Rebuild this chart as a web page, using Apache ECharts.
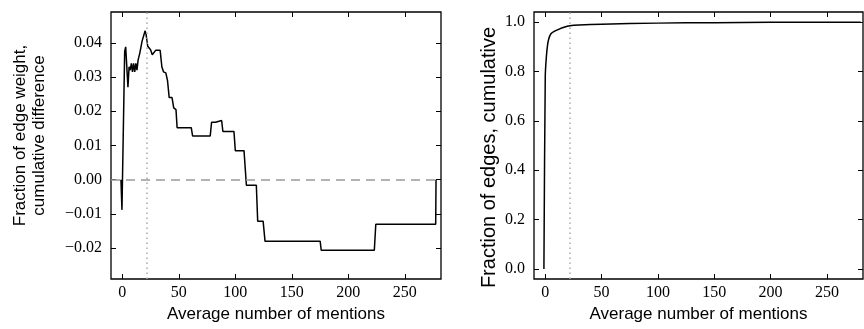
<!DOCTYPE html>
<html>
<head>
<meta charset="utf-8">
<script src="https://cdn.jsdelivr.net/npm/echarts@6/dist/echarts.min.js"></script>
<style>
  html, body { margin: 0; padding: 0; background: #fff; }
  #chart { width: 864px; height: 329px; }
</style>
</head>
<body>
<div id="chart"></div>
<script>
// left panel: cumulative difference of edge weight
const diffX = [-1.2, -0.3, 2.1, 3, 5, 6, 7, 8, 9, 10, 11, 12, 13, 14, 15.5, 16.5, 17.5, 18.5, 20.2, 21,
  22.5, 24, 25, 26.5, 28, 29.5, 33.5, 35, 36.5, 38.5, 40, 41.5, 44, 45.5, 47.5, 48.5, 61, 62.2, 77.8, 79,
  82.5, 83.7, 87.9, 89, 98.8, 100, 107.7, 109.8, 118.6, 119.8, 124.6, 126.3, 175.1, 176, 223, 224.3, 277.3, 277.6];
const diffY = [0, -0.0088, 0.0375, 0.0388, 0.027, 0.033, 0.032, 0.034, 0.0315, 0.034, 0.0315, 0.034, 0.032, 0.035, 0.037, 0.037, 0.0405, 0.041, 0.0435, 0.0425,
  0.039, 0.0385, 0.038, 0.0365, 0.0365, 0.0378, 0.0378, 0.033, 0.0315, 0.0312, 0.029, 0.024, 0.024, 0.021, 0.0205, 0.0152, 0.0152, 0.0128, 0.0128, 0.0168,
  0.0168, 0.0173, 0.0173, 0.0141, 0.0141, 0.0085, 0.0085, -0.0016, -0.0016, -0.0121, -0.0121, -0.018, -0.018, -0.0206, -0.0206, -0.013, -0.013, 0];

// right panel: cumulative fraction of edges
const cdfX = [-1.2, 0, 1, 2, 3, 5, 8, 12, 16, 22, 30, 50, 100, 150, 200, 280];
const cdfY = [0, 0.78, 0.86, 0.905, 0.93, 0.952, 0.962, 0.97, 0.977, 0.984, 0.987, 0.9905, 0.995, 0.997, 0.9985, 0.999];

const xTicks = [0, 50, 100, 150, 200, 250];
const diffTicks = [-0.02, -0.01, 0, 0.01, 0.02, 0.03, 0.04];
const cdfTicks = [0, 0.2, 0.4, 0.6, 0.8, 1.0];
const markerX = 22;

const chart = echarts.init(document.getElementById('chart'));

const tickFont = { fontFamily: 'Liberation Serif', fontSize: 16, color: '#000' };
const titleFont = { fontFamily: 'Liberation Sans', fontSize: 17, color: '#000' };
const minus = (s) => s.replace('-', '\u2212');

function xAxisPair(gridIndex) {
  const base = {
    type: 'value', gridIndex, min: -10, max: 282,
    splitLine: { show: false },
    axisLine: { show: false, onZero: false },
  };
  return [
    {
      ...base,
      position: 'bottom',
      name: 'Average number of mentions',
      nameLocation: 'middle',
      nameGap: 24,
      nameTextStyle: titleFont,
      axisTick: { inside: true, length: 5, customValues: xTicks, lineStyle: { color: '#000' } },
      axisLabel: { ...tickFont, margin: 6, customValues: xTicks },
    },
    {
      ...base,
      position: 'top',
      axisTick: { inside: true, length: 5, customValues: xTicks, lineStyle: { color: '#000' } },
      axisLabel: { show: false, customValues: xTicks },
    },
  ];
}

function yAxisPair(gridIndex, min, max, ticks, digits, name, gap, nameStyle) {
  const base = {
    type: 'value', gridIndex, min, max,
    splitLine: { show: false },
    axisLine: { show: false, onZero: false },
  };
  return [
    {
      ...base,
      position: 'left',
      name,
      nameLocation: 'middle',
      nameGap: gap,
      nameTextStyle: { ...titleFont, ...nameStyle },
      axisTick: { inside: true, length: 5, customValues: ticks, lineStyle: { color: '#000' } },
      axisLabel: {
        ...tickFont, margin: 9, customValues: ticks,
        formatter: (v) => minus(v.toFixed(digits)),
      },
    },
    {
      ...base,
      position: 'right',
      axisTick: { inside: true, length: 5, customValues: ticks, lineStyle: { color: '#000' } },
      axisLabel: { show: false, customValues: ticks },
    },
  ];
}

const diffData = diffX.map((x, i) => [x, diffY[i]]);
const cdfData = cdfX.map((x, i) => [x, cdfY[i]]);

const option = {
  backgroundColor: '#fff',
  animation: false,
  grid: [
    { left: 111, top: 12, width: 330, height: 267, show: true, borderColor: '#000', borderWidth: 1.3, backgroundColor: 'transparent' },
    { left: 534, top: 12, width: 329, height: 267, show: true, borderColor: '#000', borderWidth: 1.3, backgroundColor: 'transparent' },
  ],
  xAxis: [...xAxisPair(0), ...xAxisPair(1)],
  yAxis: [
    ...yAxisPair(0, -0.029, 0.049, diffTicks, 2, 'Fraction of edge weight,\ncumulative difference', 62,
      { lineHeight: 19, padding: [0, 0, 0, 20] }),
    ...yAxisPair(1, -0.04, 1.04, cdfTicks, 1, 'Fraction of edges, cumulative', 35,
      { fontSize: 20, padding: [0, 24, 0, 0] }),
  ],
  series: [
    {
      type: 'line',
      xAxisIndex: 0,
      yAxisIndex: 0,
      data: diffData,
      showSymbol: false,
      lineStyle: { color: '#000', width: 1.5 },
      markLine: {
        silent: true,
        symbol: 'none',
        label: { show: false },
        data: [
          { yAxis: 0, lineStyle: { color: '#999', type: [9, 6], width: 1.5 } },
          { xAxis: markerX, lineStyle: { color: '#aaa', type: [1.5, 3.5], width: 1.5 } },
        ],
      },
    },
    {
      type: 'line',
      xAxisIndex: 2,
      yAxisIndex: 2,
      data: cdfData,
      showSymbol: false,
      smooth: 0.3,
      lineStyle: { color: '#000', width: 1.5 },
      markLine: {
        silent: true,
        symbol: 'none',
        label: { show: false },
        data: [
          { xAxis: markerX, lineStyle: { color: '#aaa', type: [1.5, 3.5], width: 1.5 } },
        ],
      },
    },
  ],
};

chart.setOption(option);
</script>
</body>
</html>
